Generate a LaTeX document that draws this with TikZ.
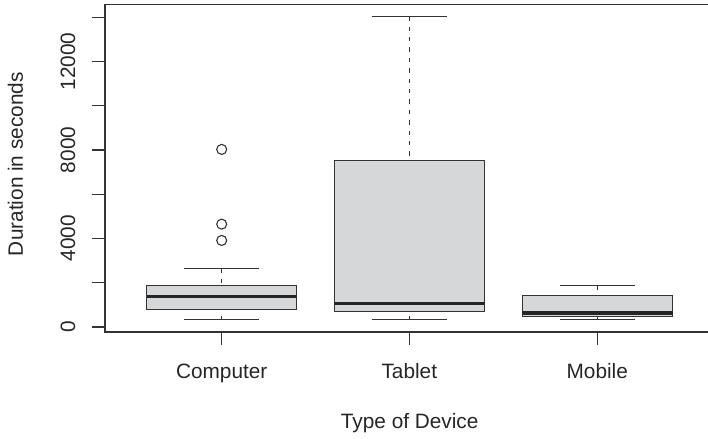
\documentclass[tikz,border=0pt]{standalone}
\usepackage{fontspec}
\setmainfont{Liberation Sans}
\usepackage{xcolor}
\usepackage{tikz}
\usetikzlibrary{positioning}
\definecolor{boxfill}{HTML}{D6D7D9}
\definecolor{ink}{HTML}{333333}
\tikzset{axisline/.style={draw=ink, line width=0.65pt},
    boxbody/.style={draw=ink, fill=boxfill, line width=0.55pt},
    medianline/.style={draw=black!85, line width=1.6pt},
    whisker/.style={draw=ink, line width=0.6pt, dash pattern=on 2.2pt off 3pt},
    capline/.style={draw=ink, line width=0.55pt},
    outlier/.style={draw=ink, line width=0.55pt},
    ticklabel/.style={text=black!85, font=\fontsize{10.4}{12}\selectfont, inner sep=0pt}}

\begin{document}
\begin{tikzpicture}[x=0.5pt, y=0.011055pt]
    \useasboundingbox (0,-5034) rectangle (708,14776);
    % frame, its right side is off the page
    \draw[axisline] (708,14573) -- (105,14573) -- (105,-226) -- (708,-226);
    % y axis
    \foreach \v in {0,2000,...,14000}
        \draw[axisline] (105,\v) -- (91.7,\v);
    \foreach \v in {0,4000,8000,12000}
        \node[ticklabel, rotate=90] (y\v) at (68,\v) {\v};
    % boxes: centre/lower/Q1/median/Q3/upper
    \foreach \cx/\lo/\qa/\md/\qb/\hi/\nm/\txt in {
            221.7/317/769/1375/1872/2655/comp/Computer,
            409.3/317/678/1058/7540/14039/tab/Tablet,
            597.3/317/452/633/1434/1854/mob/Mobile} {
        \draw[whisker] (\cx,\hi) -- (\cx,\qb);
        \draw[whisker] (\cx,\lo) -- (\cx,\qa);
        \draw[capline] (\cx-37.6,\hi) -- (\cx+37.6,\hi);
        \draw[capline] (\cx-37.6,\lo) -- (\cx+37.6,\lo);
        \draw[boxbody] (\cx-75.2,\qa) rectangle (\cx+75.2,\qb);
        \draw[medianline] (\cx-75.2,\md) -- (\cx+75.2,\md);
        \draw[axisline] (\cx,-226) -- (\cx,-828);
        \node[ticklabel, anchor=base] (\nm) at (\cx,-2320) {\txt};
    }
    \foreach \v in {8023,4645,3908}
        \draw[outlier] (221.7,\v) circle[radius=2.5pt];
    % axis titles
    \node[ticklabel] (xtitle) at (409.7,-4342) {Type of Device};
    \node[ticklabel, rotate=90] (ytitle) at (15.5,7359) {Duration in seconds};
\end{tikzpicture}
\end{document}
